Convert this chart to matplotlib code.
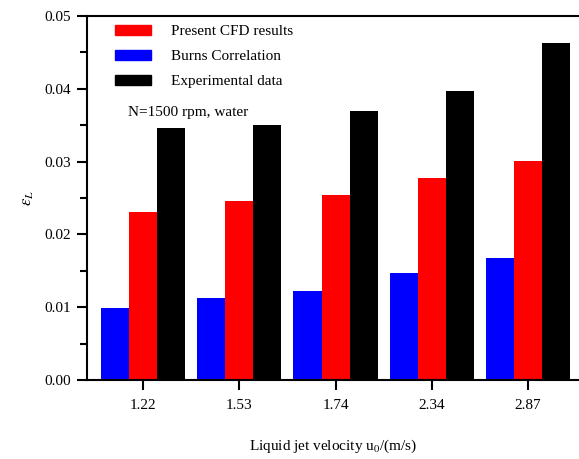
import matplotlib
matplotlib.use('Agg')
import matplotlib.pyplot as plt
import numpy as np
from matplotlib.patches import Patch
from matplotlib.ticker import MultipleLocator

velocities = ['1.22', '1.53', '1.74', '2.34', '2.87']
burns = [0.0099, 0.0113, 0.0122, 0.0147, 0.0168]
cfd = [0.0231, 0.0246, 0.0254, 0.0277, 0.0301]
experiment = [0.0346, 0.0350, 0.0370, 0.0397, 0.0463]

plt.rcParams['font.family'] = ['Liberation Serif', 'DejaVu Serif']
plt.rcParams['mathtext.fontset'] = 'stix'

fig = plt.figure(figsize=(5.79, 4.59), dpi=100)
ax = fig.add_axes([0.1503, 0.1721, 0.8497, 0.7930])

x = np.arange(len(velocities))
w = 0.2917
ax.bar(x - w, burns, w, color='#0000FF', linewidth=0)
ax.bar(x, cfd, w, color='#FF0000', linewidth=0)
ax.bar(x + w, experiment, w, color='#000000', linewidth=0)

ax.set_xlim(-0.583, 4.53)
ax.set_ylim(0, 0.05)
ax.set_xticks(x)
ax.set_xticklabels(velocities)
ax.yaxis.set_major_locator(MultipleLocator(0.01))
ax.yaxis.set_minor_locator(MultipleLocator(0.005))
ax.yaxis.set_major_formatter(matplotlib.ticker.FormatStrFormatter('%.2f'))

for s in ['left', 'top', 'bottom']:
    ax.spines[s].set_linewidth(1.5)
ax.spines['right'].set_visible(False)
ax.tick_params(axis='both', which='major', direction='out', length=7, width=1.5,
               labelsize=11, pad=4.5)
ax.tick_params(axis='x', which='major', pad=7)
ax.tick_params(axis='y', which='minor', direction='out', length=5, width=1.5)
ax.tick_params(axis='x', which='minor', bottom=False)

ax.set_ylabel(r'$\varepsilon_L$', fontsize=12, labelpad=6)
ax.set_xlabel(r'Liquid jet velocity u$_0$/(m/s)', fontsize=11, labelpad=18)

handles = [Patch(color='#FF0000'), Patch(color='#0000FF'), Patch(color='#000000')]
labels = ['Present CFD results', 'Burns Correlation', 'Experimental data']
ax.legend(handles, labels, loc='upper left', bbox_to_anchor=(0.029, 1.014),
          frameon=False, fontsize=11, handlelength=2.35, handleheight=0.65,
          handletextpad=1.3, labelspacing=0.75)
ax.text(0.084, 0.736, 'N=1500 rpm, water', transform=ax.transAxes, fontsize=11,
        va='center')

fig.savefig('out.png', dpi=100)
